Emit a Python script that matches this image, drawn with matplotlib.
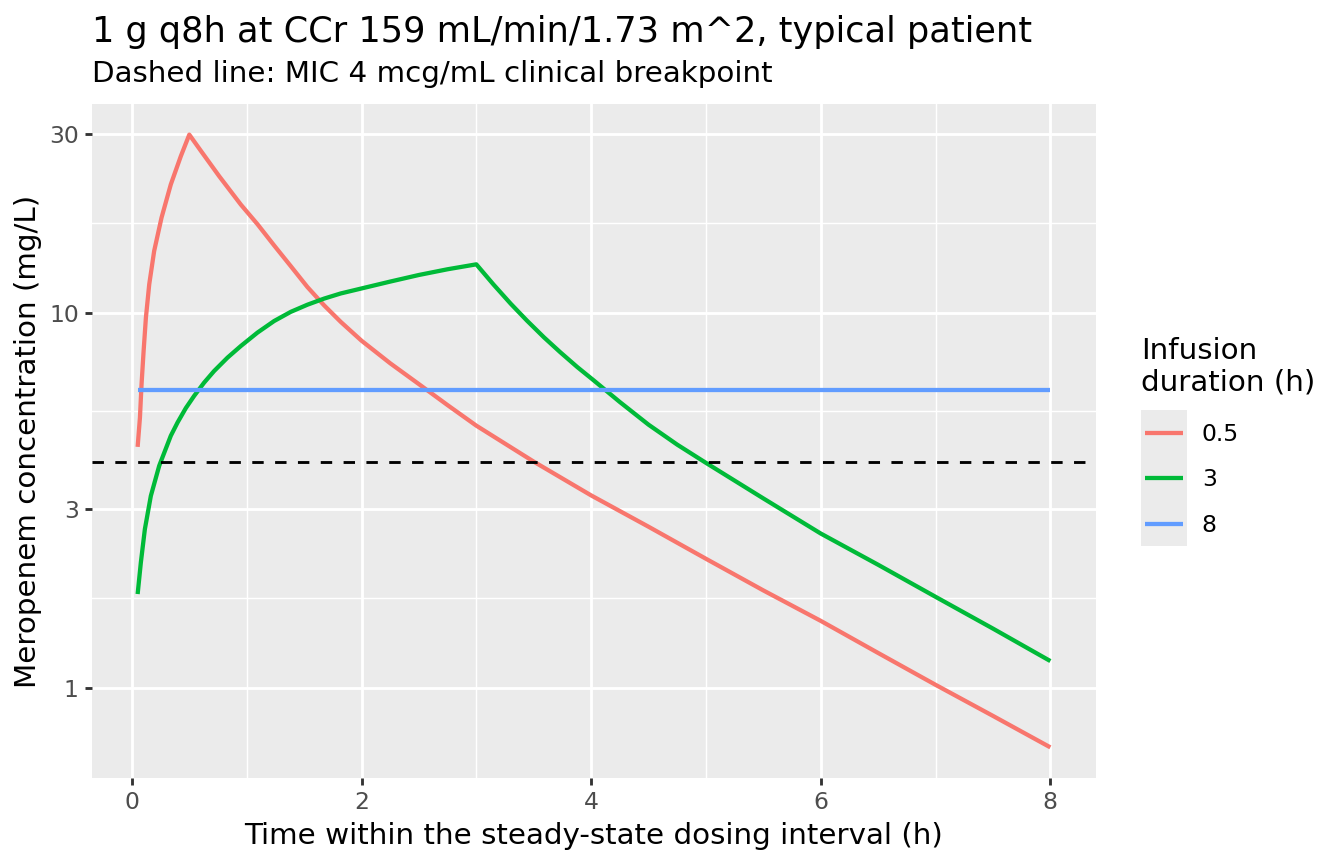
import numpy as np
import matplotlib
matplotlib.use("Agg")
import matplotlib.pyplot as plt
from matplotlib.lines import Line2D
from matplotlib.legend_handler import HandlerLine2D
from matplotlib.patches import Rectangle
from matplotlib.transforms import IdentityTransform
from matplotlib.ticker import FixedLocator, NullFormatter

# values (time in h, concentration in mg/L)
durations = ["0.5", "3", "8"]

t_05 = [0.05, 0.07, 0.084, 0.102, 0.122, 0.151, 0.194, 0.258, 0.339, 0.426, 0.5,
        0.6, 0.76, 0.949, 1.094, 1.239, 1.384, 1.529, 1.674, 1.819, 2.0, 2.25,
        2.5, 2.75, 3.0, 3.5, 4.0, 4.5, 5.0, 5.5, 6.0, 6.5, 7.0, 7.5, 8.0]
c_05 = [4.39, 5.25, 6.44, 7.9, 9.7, 11.9, 14.6, 17.9, 21.96, 26.1, 29.8,
        27.0, 23.1, 19.4, 17.2, 15.1, 13.3, 11.7, 10.46, 9.45, 8.42, 7.33,
        6.45, 5.67, 5.0, 4.01, 3.26, 2.69, 2.21, 1.82, 1.51, 1.24, 1.02, 0.843, 0.695]

t_3 = [0.05, 0.078, 0.113, 0.165, 0.238, 0.339, 0.398, 0.47, 0.542, 0.629, 0.716,
       0.833, 0.949, 1.094, 1.239, 1.384, 1.529, 1.674, 1.819, 2.0, 2.25, 2.5,
       2.75, 3.0, 3.15, 3.3, 3.44, 3.59, 3.73, 3.88, 4.02, 4.25, 4.5, 4.75, 5.0,
       5.5, 6.0, 6.5, 7.0, 7.5, 8.0]
c_3 = [1.78, 2.16, 2.65, 3.25, 3.91, 4.7, 5.1, 5.57, 6.0, 6.51, 6.99,
       7.59, 8.15, 8.85, 9.5, 10.05, 10.5, 10.9, 11.25, 11.6, 12.1, 12.6,
       13.05, 13.45, 11.88, 10.56, 9.53, 8.59, 7.85, 7.16, 6.61, 5.78, 5.03, 4.45, 3.98,
       3.2, 2.58, 2.13, 1.75, 1.44, 1.18]

t_8 = [0.05, 8.0]
c_8 = [6.22, 6.22]

mic = 4
x_breaks = [0, 2, 4, 6, 8]
y_breaks = [1, 3, 10, 30]

colors = ["#F8766D", "#00BA38", "#619CFF"]
W, H = 1344, 864

fig = plt.figure(figsize=(7, 4.5), dpi=192)
ax = fig.add_axes([92 / W, 1 - 778 / H, (1096 - 92) / W, (778 - 104) / H])
ax.set_facecolor("#EBEBEB")
for s in ax.spines.values():
    s.set_visible(False)

series = [(t_05, c_05), (t_3, c_3), (t_8, c_8)]
for (t, c), lab, col in zip(series, durations, colors):
    ax.plot(t, c, color=col, lw=1.6, label=lab, solid_capstyle="butt",
            solid_joinstyle="round", zorder=3)

ax.axhline(mic, color="black", lw=1.07, linestyle=(0, (4, 4)), zorder=3)

# ggplot-like 5% expansion
all_t = np.concatenate([np.asarray(t) for t, _ in series])
all_c = np.log10(np.concatenate([np.asarray(c) for _, c in series]))
tr = all_t.max() - all_t.min()
ax.set_xlim(all_t.min() - 0.05 * tr, all_t.max() + 0.05 * tr)
ax.set_yscale("log")
cr = all_c.max() - all_c.min()
ax.set_ylim(10 ** (all_c.min() - 0.05 * cr), 10 ** (all_c.max() + 0.05 * cr))

ax.set_xticks(x_breaks)
ax.set_xticklabels([str(b) for b in x_breaks])
ax.set_yticks(y_breaks)
ax.set_yticklabels([str(b) for b in y_breaks])
xb = np.array(x_breaks, dtype=float)
yb = np.array(y_breaks, dtype=float)
ax.xaxis.set_minor_locator(FixedLocator((xb[:-1] + xb[1:]) / 2))
ax.yaxis.set_minor_locator(FixedLocator(np.sqrt(yb[:-1] * yb[1:])))
ax.yaxis.set_minor_formatter(NullFormatter())
ax.xaxis.set_minor_formatter(NullFormatter())

ax.grid(which="major", color="white", lw=1.07, zorder=0)
ax.grid(which="minor", color="white", lw=0.53, zorder=0)
ax.set_axisbelow(True)
ax.tick_params(which="major", length=2.75, width=1.07, color="#333333",
               labelcolor="#4D4D4D", labelsize=8.8, pad=2.2)
ax.tick_params(which="minor", length=0)

ax.set_xlabel("Time within the steady-state dosing interval (h)", fontsize=11,
              labelpad=2.75)
ax.set_ylabel("Meropenem concentration (mg/L)", fontsize=11, labelpad=2.75)

fig.text(92 / W, 1 - 41.7 / H, "1 g q8h at CCr 159 mL/min/1.73 m^2, typical patient",
         fontsize=13.2, ha="left", va="baseline")
fig.text(92 / W, 1 - 82.3 / H, "Dashed line: MIC 4 mcg/mL clinical breakpoint",
         fontsize=11, ha="left", va="baseline")

fs = 8.8
pad = 0.17
lsp = 0.96
leg = ax.legend(title="Infusion\nduration (h)", loc="center left",
                bbox_to_anchor=(1141 / W, 1 - 437 / H), bbox_transform=fig.transFigure,
                frameon=False, fontsize=fs, title_fontsize=11,
                handlelength=(46 / 192 * 72) / fs, handletextpad=0.63,
                labelspacing=lsp, borderpad=0, borderaxespad=0, alignment="left",
                handler_map={Line2D: HandlerLine2D(marker_pad=pad, numpoints=2)})
leg.get_title().set_linespacing(1.15)
leg._legend_box.sep = lsp * fs + 1.5

# grey key background like ggplot
fig.canvas.draw()
xs, ys = [], []
for h in leg.legend_handles:
    xy = h.get_transform().transform(np.column_stack([h.get_xdata(), h.get_ydata()]))
    xs.extend(xy[:, 0])
    ys.append(xy[0, 1])
inset = pad * fs / 72 * 192
pitch = (max(ys) - min(ys)) / 2
x0, x1 = min(xs) - inset, max(xs) + inset
y0, y1 = min(ys) - pitch / 2, max(ys) + pitch / 2
fig.add_artist(Rectangle((x0, y0), x1 - x0, y1 - y0, transform=IdentityTransform(),
                         facecolor="#EBEBEB", edgecolor="none", zorder=-1))

fig.savefig("out.png", dpi=192, facecolor="white")
